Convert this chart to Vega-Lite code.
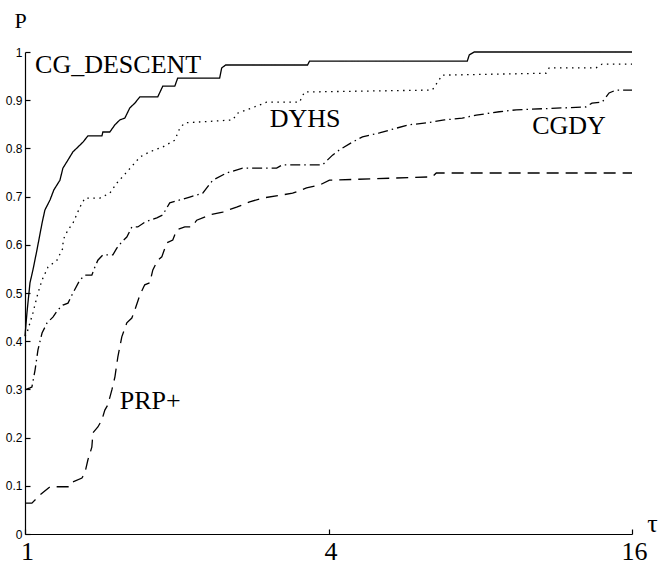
{
  "$schema": "https://vega.github.io/schema/vega-lite/v6.json",
  "width": 607,
  "height": 482,
  "autosize": {"type": "none"},
  "padding": {"left": 25, "top": 52, "right": 34, "bottom": 31},
  "background": "white",
  "view": {"stroke": null},
  "config": {"axis": {"grid": false}},
  "datasets": {
    "profiles": [
      {"solver": "CG_DESCENT", "tau": 1, "p": 0.411},
      {"solver": "CG_DESCENT", "tau": 1.009, "p": 0.459},
      {"solver": "CG_DESCENT", "tau": 1.023, "p": 0.521},
      {"solver": "CG_DESCENT", "tau": 1.037, "p": 0.548},
      {"solver": "CG_DESCENT", "tau": 1.056, "p": 0.589},
      {"solver": "CG_DESCENT", "tau": 1.081, "p": 0.645},
      {"solver": "CG_DESCENT", "tau": 1.095, "p": 0.672},
      {"solver": "CG_DESCENT", "tau": 1.121, "p": 0.693},
      {"solver": "CG_DESCENT", "tau": 1.141, "p": 0.714},
      {"solver": "CG_DESCENT", "tau": 1.173, "p": 0.734},
      {"solver": "CG_DESCENT", "tau": 1.189, "p": 0.759},
      {"solver": "CG_DESCENT", "tau": 1.217, "p": 0.776},
      {"solver": "CG_DESCENT", "tau": 1.245, "p": 0.793},
      {"solver": "CG_DESCENT", "tau": 1.274, "p": 0.803},
      {"solver": "CG_DESCENT", "tau": 1.303, "p": 0.813},
      {"solver": "CG_DESCENT", "tau": 1.333, "p": 0.826},
      {"solver": "CG_DESCENT", "tau": 1.421, "p": 0.826},
      {"solver": "CG_DESCENT", "tau": 1.427, "p": 0.834},
      {"solver": "CG_DESCENT", "tau": 1.473, "p": 0.834},
      {"solver": "CG_DESCENT", "tau": 1.508, "p": 0.849},
      {"solver": "CG_DESCENT", "tau": 1.542, "p": 0.859},
      {"solver": "CG_DESCENT", "tau": 1.578, "p": 0.863},
      {"solver": "CG_DESCENT", "tau": 1.614, "p": 0.884},
      {"solver": "CG_DESCENT", "tau": 1.652, "p": 0.894},
      {"solver": "CG_DESCENT", "tau": 1.69, "p": 0.907},
      {"solver": "CG_DESCENT", "tau": 1.834, "p": 0.907},
      {"solver": "CG_DESCENT", "tau": 1.876, "p": 0.929},
      {"solver": "CG_DESCENT", "tau": 1.982, "p": 0.929},
      {"solver": "CG_DESCENT", "tau": 2.009, "p": 0.946},
      {"solver": "CG_DESCENT", "tau": 2.433, "p": 0.946},
      {"solver": "CG_DESCENT", "tau": 2.456, "p": 0.967},
      {"solver": "CG_DESCENT", "tau": 2.501, "p": 0.973},
      {"solver": "CG_DESCENT", "tau": 3.635, "p": 0.973},
      {"solver": "CG_DESCENT", "tau": 3.668, "p": 0.981},
      {"solver": "CG_DESCENT", "tau": 7.54, "p": 0.981},
      {"solver": "CG_DESCENT", "tau": 7.609, "p": 0.994},
      {"solver": "CG_DESCENT", "tau": 7.784, "p": 1.0},
      {"solver": "CG_DESCENT", "tau": 16, "p": 1.0},

      {"solver": "DYHS", "tau": 1, "p": 0.41},
      {"solver": "DYHS", "tau": 1.009, "p": 0.417},
      {"solver": "DYHS", "tau": 1.037, "p": 0.459},
      {"solver": "DYHS", "tau": 1.061, "p": 0.5},
      {"solver": "DYHS", "tau": 1.081, "p": 0.527},
      {"solver": "DYHS", "tau": 1.111, "p": 0.554},
      {"solver": "DYHS", "tau": 1.157, "p": 0.568},
      {"solver": "DYHS", "tau": 1.189, "p": 0.593},
      {"solver": "DYHS", "tau": 1.19, "p": 0.61},
      {"solver": "DYHS", "tau": 1.217, "p": 0.631},
      {"solver": "DYHS", "tau": 1.245, "p": 0.645},
      {"solver": "DYHS", "tau": 1.285, "p": 0.678},
      {"solver": "DYHS", "tau": 1.315, "p": 0.697},
      {"solver": "DYHS", "tau": 1.408, "p": 0.697},
      {"solver": "DYHS", "tau": 1.473, "p": 0.707},
      {"solver": "DYHS", "tau": 1.521, "p": 0.728},
      {"solver": "DYHS", "tau": 1.592, "p": 0.751},
      {"solver": "DYHS", "tau": 1.652, "p": 0.77},
      {"solver": "DYHS", "tau": 1.69, "p": 0.782},
      {"solver": "DYHS", "tau": 1.768, "p": 0.793},
      {"solver": "DYHS", "tau": 1.876, "p": 0.803},
      {"solver": "DYHS", "tau": 1.982, "p": 0.817},
      {"solver": "DYHS", "tau": 2.028, "p": 0.842},
      {"solver": "DYHS", "tau": 2.075, "p": 0.853},
      {"solver": "DYHS", "tau": 2.582, "p": 0.859},
      {"solver": "DYHS", "tau": 2.641, "p": 0.873},
      {"solver": "DYHS", "tau": 2.92, "p": 0.89},
      {"solver": "DYHS", "tau": 3.015, "p": 0.896},
      {"solver": "DYHS", "tau": 3.504, "p": 0.896},
      {"solver": "DYHS", "tau": 3.585, "p": 0.917},
      {"solver": "DYHS", "tau": 6.427, "p": 0.921},
      {"solver": "DYHS", "tau": 6.727, "p": 0.952},
      {"solver": "DYHS", "tau": 10.81, "p": 0.956},
      {"solver": "DYHS", "tau": 10.96, "p": 0.967},
      {"solver": "DYHS", "tau": 13.58, "p": 0.967},
      {"solver": "DYHS", "tau": 13.96, "p": 0.975},
      {"solver": "DYHS", "tau": 16, "p": 0.975},

      {"solver": "CGDY", "tau": 1, "p": 0.299},
      {"solver": "CGDY", "tau": 1.023, "p": 0.303},
      {"solver": "CGDY", "tau": 1.032, "p": 0.305},
      {"solver": "CGDY", "tau": 1.047, "p": 0.34},
      {"solver": "CGDY", "tau": 1.061, "p": 0.382},
      {"solver": "CGDY", "tau": 1.081, "p": 0.417},
      {"solver": "CGDY", "tau": 1.106, "p": 0.438},
      {"solver": "CGDY", "tau": 1.136, "p": 0.45},
      {"solver": "CGDY", "tau": 1.162, "p": 0.465},
      {"solver": "CGDY", "tau": 1.189, "p": 0.475},
      {"solver": "CGDY", "tau": 1.217, "p": 0.479},
      {"solver": "CGDY", "tau": 1.239, "p": 0.496},
      {"solver": "CGDY", "tau": 1.285, "p": 0.527},
      {"solver": "CGDY", "tau": 1.315, "p": 0.537},
      {"solver": "CGDY", "tau": 1.357, "p": 0.537},
      {"solver": "CGDY", "tau": 1.376, "p": 0.554},
      {"solver": "CGDY", "tau": 1.395, "p": 0.568},
      {"solver": "CGDY", "tau": 1.427, "p": 0.579},
      {"solver": "CGDY", "tau": 1.494, "p": 0.579},
      {"solver": "CGDY", "tau": 1.521, "p": 0.593},
      {"solver": "CGDY", "tau": 1.556, "p": 0.606},
      {"solver": "CGDY", "tau": 1.592, "p": 0.616},
      {"solver": "CGDY", "tau": 1.629, "p": 0.637},
      {"solver": "CGDY", "tau": 1.674, "p": 0.637},
      {"solver": "CGDY", "tau": 1.728, "p": 0.647},
      {"solver": "CGDY", "tau": 1.768, "p": 0.651},
      {"solver": "CGDY", "tau": 1.826, "p": 0.656},
      {"solver": "CGDY", "tau": 1.876, "p": 0.662},
      {"solver": "CGDY", "tau": 1.937, "p": 0.687},
      {"solver": "CGDY", "tau": 2.028, "p": 0.693},
      {"solver": "CGDY", "tau": 2.122, "p": 0.699},
      {"solver": "CGDY", "tau": 2.252, "p": 0.707},
      {"solver": "CGDY", "tau": 2.357, "p": 0.734},
      {"solver": "CGDY", "tau": 2.512, "p": 0.749},
      {"solver": "CGDY", "tau": 2.702, "p": 0.759},
      {"solver": "CGDY", "tau": 3.156, "p": 0.759},
      {"solver": "CGDY", "tau": 3.243, "p": 0.766},
      {"solver": "CGDY", "tau": 3.893, "p": 0.766},
      {"solver": "CGDY", "tau": 4.074, "p": 0.786},
      {"solver": "CGDY", "tau": 4.206, "p": 0.797},
      {"solver": "CGDY", "tau": 4.462, "p": 0.813},
      {"solver": "CGDY", "tau": 4.671, "p": 0.824},
      {"solver": "CGDY", "tau": 5.048, "p": 0.832},
      {"solver": "CGDY", "tau": 5.454, "p": 0.842},
      {"solver": "CGDY", "tau": 5.788, "p": 0.849},
      {"solver": "CGDY", "tau": 6.253, "p": 0.853},
      {"solver": "CGDY", "tau": 6.789, "p": 0.859},
      {"solver": "CGDY", "tau": 7.369, "p": 0.863},
      {"solver": "CGDY", "tau": 7.856, "p": 0.869},
      {"solver": "CGDY", "tau": 8.724, "p": 0.876},
      {"solver": "CGDY", "tau": 9.427, "p": 0.88},
      {"solver": "CGDY", "tau": 12.97, "p": 0.886},
      {"solver": "CGDY", "tau": 13.33, "p": 0.894},
      {"solver": "CGDY", "tau": 13.96, "p": 0.896},
      {"solver": "CGDY", "tau": 14.41, "p": 0.915},
      {"solver": "CGDY", "tau": 14.87, "p": 0.921},
      {"solver": "CGDY", "tau": 16, "p": 0.921},

      {"solver": "PRP+", "tau": 1, "p": 0.064},
      {"solver": "PRP+", "tau": 1.032, "p": 0.064},
      {"solver": "PRP+", "tau": 1.071, "p": 0.081},
      {"solver": "PRP+", "tau": 1.121, "p": 0.098},
      {"solver": "PRP+", "tau": 1.228, "p": 0.098},
      {"solver": "PRP+", "tau": 1.245, "p": 0.108},
      {"solver": "PRP+", "tau": 1.297, "p": 0.116},
      {"solver": "PRP+", "tau": 1.315, "p": 0.127},
      {"solver": "PRP+", "tau": 1.333, "p": 0.154},
      {"solver": "PRP+", "tau": 1.357, "p": 0.18},
      {"solver": "PRP+", "tau": 1.364, "p": 0.21},
      {"solver": "PRP+", "tau": 1.395, "p": 0.222},
      {"solver": "PRP+", "tau": 1.421, "p": 0.237},
      {"solver": "PRP+", "tau": 1.44, "p": 0.257},
      {"solver": "PRP+", "tau": 1.46, "p": 0.268},
      {"solver": "PRP+", "tau": 1.487, "p": 0.299},
      {"solver": "PRP+", "tau": 1.508, "p": 0.326},
      {"solver": "PRP+", "tau": 1.528, "p": 0.367},
      {"solver": "PRP+", "tau": 1.556, "p": 0.409},
      {"solver": "PRP+", "tau": 1.592, "p": 0.438},
      {"solver": "PRP+", "tau": 1.629, "p": 0.448},
      {"solver": "PRP+", "tau": 1.652, "p": 0.465},
      {"solver": "PRP+", "tau": 1.69, "p": 0.496},
      {"solver": "PRP+", "tau": 1.728, "p": 0.517},
      {"solver": "PRP+", "tau": 1.768, "p": 0.521},
      {"solver": "PRP+", "tau": 1.793, "p": 0.548},
      {"solver": "PRP+", "tau": 1.834, "p": 0.568},
      {"solver": "PRP+", "tau": 1.868, "p": 0.575},
      {"solver": "PRP+", "tau": 1.911, "p": 0.604},
      {"solver": "PRP+", "tau": 1.964, "p": 0.61},
      {"solver": "PRP+", "tau": 2.0, "p": 0.631},
      {"solver": "PRP+", "tau": 2.075, "p": 0.637},
      {"solver": "PRP+", "tau": 2.141, "p": 0.637},
      {"solver": "PRP+", "tau": 2.191, "p": 0.651},
      {"solver": "PRP+", "tau": 2.325, "p": 0.662},
      {"solver": "PRP+", "tau": 2.467, "p": 0.668},
      {"solver": "PRP+", "tau": 2.629, "p": 0.678},
      {"solver": "PRP+", "tau": 2.79, "p": 0.689},
      {"solver": "PRP+", "tau": 2.961, "p": 0.697},
      {"solver": "PRP+", "tau": 3.395, "p": 0.707},
      {"solver": "PRP+", "tau": 3.618, "p": 0.718},
      {"solver": "PRP+", "tau": 3.84, "p": 0.724},
      {"solver": "PRP+", "tau": 4.018, "p": 0.734},
      {"solver": "PRP+", "tau": 6.427, "p": 0.741},
      {"solver": "PRP+", "tau": 6.545, "p": 0.749},
      {"solver": "PRP+", "tau": 16, "p": 0.749}
    ],
    "labels": [
      {"label": "CG_DESCENT", "tau": 1.047, "p": 0.956},
      {"label": "DYHS", "tau": 3.057, "p": 0.844},
      {"label": "CGDY", "tau": 10.14, "p": 0.83},
      {"label": "PRP+", "tau": 1.542, "p": 0.259}
    ]
  },
  "layer": [
    {
      "data": {"name": "profiles"},
      "mark": {"type": "line", "color": "black", "strokeWidth": 1.3},
      "encoding": {
        "x": {
          "field": "tau",
          "type": "quantitative",
          "scale": {"type": "log", "base": 2, "domain": [1, 16]},
          "axis": {
            "values": [1, 4, 16],
            "format": "d",
            "labelFlush": false,
            "labelFont": "Liberation Serif, Times New Roman, serif",
            "labelFontSize": 26,
            "labelColor": "black",
            "labelBaseline": "top",
            "labelPadding": 9,
            "labelOffset": 2,
            "tickSize": -5,
            "tickColor": "black",
            "tickWidth": 1.2,
            "domainColor": "black",
            "domainWidth": 1.2,
            "title": "τ",
            "titleFont": "Liberation Serif, Times New Roman, serif",
            "titleFontSize": 26,
            "titleFontWeight": "normal",
            "titleColor": "black",
            "titleAlign": "center",
            "titleBaseline": "alphabetic",
            "titleX": 627,
            "titleY": -3
          }
        },
        "y": {
          "field": "p",
          "type": "quantitative",
          "scale": {"domain": [0, 1]},
          "axis": {
            "values": [0, 0.1, 0.2, 0.3, 0.4, 0.5, 0.6, 0.7, 0.8, 0.9, 1],
            "format": ".1~f",
            "labelFont": "Liberation Sans, Arial, sans-serif",
            "labelFontSize": 12,
            "labelColor": "black",
            "labelPadding": 8,
            "labelFlush": false,
            "tickSize": -5,
            "tickColor": "black",
            "tickWidth": 1.2,
            "domainColor": "black",
            "domainWidth": 1.2,
            "title": "P",
            "titleAngle": 0,
            "titleFont": "Liberation Serif, Times New Roman, serif",
            "titleFontSize": 22,
            "titleFontWeight": "normal",
            "titleColor": "black",
            "titleAlign": "center",
            "titleBaseline": "alphabetic",
            "titleX": -5,
            "titleY": -25
          }
        },
        "strokeDash": {
          "field": "solver",
          "type": "nominal",
          "scale": {
            "domain": ["CG_DESCENT", "DYHS", "CGDY", "PRP+"],
            "range": [[1, 0], [1.5, 4.5], [10, 4, 1.5, 4], [12, 7]]
          },
          "legend": null
        }
      }
    },
    {
      "data": {"name": "labels"},
      "mark": {
        "type": "text",
        "font": "Liberation Serif, Times New Roman, serif",
        "fontSize": 26,
        "align": "left",
        "baseline": "alphabetic",
        "color": "black"
      },
      "encoding": {
        "x": {"field": "tau", "type": "quantitative"},
        "y": {"field": "p", "type": "quantitative"},
        "text": {"field": "label"}
      }
    }
  ]
}
